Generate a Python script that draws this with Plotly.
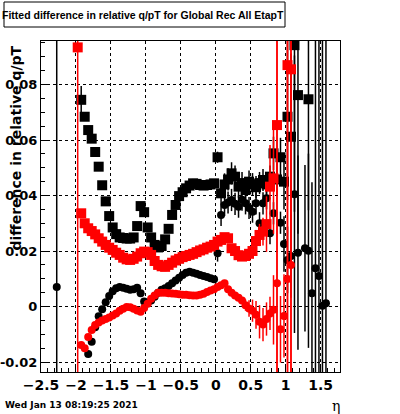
import plotly.graph_objects as go

# ---------------- data ----------------
bs_eta = [-1.925, -1.875, -1.825, -1.775, -1.725, -1.675, -1.625, -1.575, -1.525, -1.475,
          -1.425, -1.375, -1.325, -1.275, -1.225, -1.175, -1.125, -1.075, -1.025, -0.975,
          -0.925, -0.875, -0.825, -0.775, -0.725, -0.675, -0.625, -0.575, -0.525, -0.475,
          -0.425, -0.375, -0.325, -0.275, -0.225, -0.175, -0.125, -0.075, -0.025,
          0.025, 0.075, 0.125, 0.175, 0.225, 0.275, 0.325, 0.375, 0.425, 0.475,
          0.525, 0.575, 0.625, 0.675, 0.725, 0.775, 0.825, 0.875, 0.925, 0.975,
          1.025, 1.075, 1.125, 1.175, 1.325]
bs_val = [0.0745, 0.0684, 0.0636, 0.0605, 0.0557, 0.0504, 0.0437, 0.0379, 0.0326, 0.0285,
          0.0261, 0.0249, 0.0247, 0.0245, 0.0245, 0.0249, 0.0290, 0.0362, 0.0340, 0.0285,
          0.0249, 0.0222, 0.0213, 0.0218, 0.0242, 0.0280, 0.0330, 0.0366, 0.0398, 0.0412,
          0.0426, 0.0436, 0.0444, 0.0442, 0.0438, 0.0436, 0.0438, 0.0440, 0.0444,
          0.0538, 0.0408, 0.0440, 0.0458, 0.0480, 0.0468, 0.0432, 0.0445, 0.0420, 0.0450,
          0.0441, 0.0430, 0.0445, 0.0456, 0.0440, 0.0468, 0.0552, 0.0458, 0.0538, 0.0450,
          0.0684, 0.0612, 0.0942, 0.0762, 0.0747]
bs_err = [0.005] + [0.001] * 38 + [0.002] + [0.004] * 15 + [0.006, 0.006, 0.007, 0.010,
          0.030, 0.030, 0.060, 0.050, 0.040]

bc_eta = [-2.275, -1.825, -1.775, -1.725, -1.675, -1.625, -1.575, -1.525, -1.475,
          -1.425, -1.375, -1.325, -1.275, -1.225, -1.175, -1.125, -1.075, -1.025, -0.975,
          -0.925, -0.875, -0.825, -0.775, -0.725, -0.675, -0.625, -0.575, -0.525, -0.475,
          -0.425, -0.375, -0.325, -0.275, -0.225, -0.175, -0.125, -0.075, -0.025,
          0.025, 0.075, 0.125, 0.175, 0.225, 0.275, 0.325, 0.375, 0.425, 0.475,
          0.525, 0.575, 0.625, 0.675, 0.725, 0.775, 0.825, 0.925, 0.975,
          1.025, 1.075, 1.125, 1.175, 1.275, 1.325, 1.375, 1.425, 1.475, 1.525, 1.575]
bc_val = [0.0070, -0.0171, -0.0127, -0.0075, -0.0035, -0.0010, 0.0015, 0.0038, 0.0055,
          0.0066, 0.0070, 0.0068, 0.0064, 0.0060, 0.0062, 0.0068, 0.0048, 0.0018, 0.0012,
          0.0022, 0.0035, 0.0050, 0.0060, 0.0066, 0.0074, 0.0084, 0.0094, 0.0104, 0.0114,
          0.0122, 0.0125, 0.0122, 0.0118, 0.0114, 0.0110, 0.0106, 0.0102, 0.0098,
          0.0192, 0.0330, 0.0366, 0.0375, 0.0384, 0.0370, 0.0360, 0.0385, 0.0372, 0.0355,
          0.0342, 0.0372, 0.0300, 0.0372, 0.0390, 0.0264, 0.0336, 0.0302, 0.0225,
          0.0168, 0.0182, 0.0405, 0.0194, 0.0210, 0.0201, 0.0048, 0.0138, 0.0110, 0.0003, 0.0012]
bc_err = [0.3] + [0.001] * 37 + [0.003] + [0.004] * 17 + [0.010, 0.012, 0.015, 0.050,
          0.035, 0.030, 0.035, 0.040, 0.3, 0.3, 0.3, 0.3]

rs_eta = [-1.975, -1.925, -1.875, -1.825, -1.775, -1.725, -1.675, -1.625, -1.575, -1.525,
          -1.475, -1.425, -1.375, -1.325, -1.275, -1.225, -1.175, -1.125, -1.075, -1.025,
          -0.975, -0.925, -0.875, -0.825, -0.775, -0.725, -0.675, -0.625, -0.575, -0.525,
          -0.475, -0.425, -0.375, -0.325, -0.275, -0.225, -0.175, -0.125, -0.075, -0.025,
          0.025, 0.075, 0.125, 0.175, 0.225, 0.275, 0.325, 0.375, 0.425, 0.475,
          0.525, 0.575, 0.625, 0.675, 0.725, 0.775, 0.825, 0.875, 1.025, 1.075]
rs_val = [0.0934, 0.0336, 0.0300, 0.0282, 0.0272, 0.0260, 0.0246, 0.0234, 0.0222, 0.0212,
          0.0204, 0.0194, 0.0186, 0.0176, 0.0170, 0.0168, 0.0172, 0.0180, 0.0192, 0.0198,
          0.0196, 0.0186, 0.0164, 0.0150, 0.0145, 0.0143, 0.0150, 0.0158, 0.0166, 0.0172,
          0.0178, 0.0182, 0.0186, 0.0190, 0.0196, 0.0202, 0.0206, 0.0212, 0.0216, 0.0222,
          0.0234, 0.0240, 0.0250, 0.0246, 0.0210, 0.0200, 0.0185, 0.0180, 0.0182, 0.0190,
          0.0200, 0.0236, 0.0258, 0.0270, 0.0297, 0.0432, 0.0462, 0.0654, 0.0870, 0.0855]
rs_err = [0.3] + [0.001] * 50 + [0.004, 0.004, 0.005, 0.010, 0.015, 0.020, 0.3, 0.3, 0.3]

rc_eta = [-1.925, -1.875, -1.825, -1.775, -1.725, -1.675, -1.625, -1.575, -1.525,
          -1.475, -1.425, -1.375, -1.325, -1.275, -1.225, -1.175, -1.125, -1.075, -1.025,
          -0.975, -0.925, -0.875, -0.825, -0.775, -0.725, -0.675, -0.625, -0.575, -0.525,
          -0.475, -0.425, -0.375, -0.325, -0.275, -0.225, -0.175, -0.125, -0.075, -0.025,
          0.025, 0.075, 0.125, 0.175, 0.225, 0.275, 0.325, 0.375, 0.425, 0.475,
          0.525, 0.575, 0.625, 0.675, 0.725, 0.775, 0.825, 0.875, 0.925, 0.975, 1.025, 1.075]
rc_val = [-0.0139, -0.0150, -0.0110, -0.0085, -0.0067, -0.0058, -0.0050, -0.0045, -0.0040,
          -0.0032, -0.0025, -0.0015, -0.0008, -0.0002, -0.0003, -0.0008, -0.0014, -0.0019, -0.0005,
          0.0010, 0.0028, 0.0040, 0.0050, 0.0050, 0.0050, 0.0048, 0.0047, 0.0046, 0.0044,
          0.0042, 0.0042, 0.0041, 0.0040, 0.0040, 0.0042, 0.0046, 0.0052, 0.0058, 0.0062,
          0.0070, 0.0077, 0.0084, 0.0062, 0.0050, 0.0040, 0.0032, 0.0022, 0.0005, -0.0007,
          -0.0015, -0.0030, -0.0055, -0.0065, -0.0045, -0.0025, -0.0012, 0.0084, -0.0082,
          -0.0034, 0.0099, 0.0150]
rc_err = [0.001] * 47 + [0.002, 0.003, 0.004, 0.005, 0.006, 0.006, 0.006, 0.006, 0.0125,
          0.3, 0.012, 0.015, 0.3, 0.3]

x_range = [-2.5, 1.776]
y_range = [-0.0236, 0.0957]
x_ticks = [-2.5, -2, -1.5, -1, -0.5, 0, 0.5, 1, 1.5]
y_ticks = [-0.02, 0, 0.02, 0.04, 0.06, 0.08]
y_ticklabels = ["-0.02", "0", "0.02", "0.04", "0.06", "0.08"]

title_text = "Fitted difference in relative q/pT for Global Rec All EtapT"
ytitle_text = "difference in relative q/pT"
xtitle_text = "η"
date_text = "Wed Jan 13 08:19:25 2021"

# ---------------- figure ----------------
fig = go.Figure()

def add_series(eta, val, err, color, symbol, size, ethick):
    fig.add_trace(go.Scatter(
        x=eta, y=val, mode="markers",
        marker=dict(symbol=symbol, size=size, color=color, line=dict(width=0)),
        error_y=dict(type="data", array=err, visible=True, width=0,
                     thickness=ethick, color=color),
        showlegend=False, cliponaxis=True, hoverinfo="skip"))

add_series(bs_eta, bs_val, bs_err, "black", "square", 10, 1.5)
add_series(bc_eta, bc_val, bc_err, "black", "circle", 8, 1.5)
add_series(rs_eta, rs_val, rs_err, "red", "square", 10, 1.5)
add_series(rc_eta, rc_val, rc_err, "red", "circle", 8, 1.5)

L, R, T, B = 41, 60, 41, 42
W, H = 400, 414
pw, ph = W - L - R, H - T - B

def px2x(px):
    return (px - L) / pw

def py2y(py):
    return (H - B - py) / ph

xtickfont = dict(family="DejaVu Sans", size=14, color="black", weight="bold")
ytickfont = dict(family="DejaVu Sans", size=13, color="black", weight="bold")

common = dict(ticks="inside", ticklen=8, tickcolor="black", tickwidth=1,
              showline=True, linecolor="black", linewidth=1, mirror=True,
              showgrid=True, gridcolor="black", griddash="dot", gridwidth=1,
              zeroline=False, automargin=False)

fig.update_xaxes(range=x_range, tickvals=x_ticks, tickfont=xtickfont,
                 minor=dict(dtick=0.1, tick0=0, ticks="inside", ticklen=4,
                            tickcolor="black", showgrid=False), **common)
fig.update_yaxes(range=y_range, tickvals=y_ticks, ticktext=y_ticklabels, tickfont=ytickfont,
                 minor=dict(dtick=0.005, tick0=0, ticks="inside", ticklen=4,
                            tickcolor="black", showgrid=False), **common)

fig.add_shape(type="rect", xref="paper", yref="paper",
              x0=px2x(4), x1=px2x(285), y0=py2y(27), y1=py2y(2),
              line=dict(color="black", width=1), fillcolor="white", layer="above")

fig.add_annotation(text=title_text, xref="paper", yref="paper",
                   x=px2x(143), y=py2y(15), xanchor="center", yanchor="middle",
                   showarrow=False,
                   font=dict(family="Liberation Sans", size=10.5, color="black", weight="bold"))
fig.add_annotation(text=ytitle_text, xref="paper", yref="paper",
                   x=px2x(15), y=py2y(44), xanchor="center", yanchor="top",
                   textangle=-90, showarrow=False,
                   font=dict(family="DejaVu Sans", size=14, color="black", weight="bold"))
fig.add_annotation(text=xtitle_text, xref="paper", yref="paper",
                   x=px2x(336), y=py2y(406), xanchor="center", yanchor="middle",
                   showarrow=False,
                   font=dict(family="DejaVu Serif", size=14, color="black"))
fig.add_annotation(text=date_text, xref="paper", yref="paper",
                   x=px2x(3), y=py2y(405), xanchor="left", yanchor="middle",
                   showarrow=False,
                   font=dict(family="DejaVu Sans", size=9, color="black", weight="bold"))

fig.update_layout(width=W, height=H, margin=dict(l=L, r=R, t=T, b=B, autoexpand=False),
                  paper_bgcolor="white", plot_bgcolor="white", showlegend=False,
                  hovermode=False)

fig.write_html("out.html", config={"displayModeBar": False, "staticPlot": True},
               post_script="document.body.style.margin='0';document.body.style.overflow='hidden';")
